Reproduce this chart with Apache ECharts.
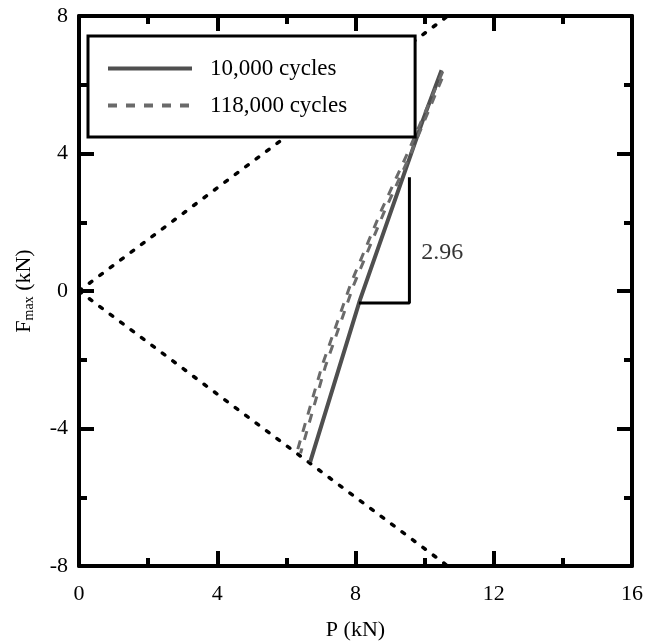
<!DOCTYPE html>
<html>
<head>
<meta charset="utf-8">
<script src="https://cdn.jsdelivr.net/npm/echarts@6/dist/echarts.min.js"></script>
<style>
  html, body { margin: 0; padding: 0; background: #fff; }
  #chart { width: 655px; height: 644px; }
</style>
</head>
<body>
<div id="chart"></div>
<script>
// P (kN), Fmax (kN)
const cycles10k = [[6.69, -4.97], [8.13, -0.26], [9.95, 4.97], [10.49, 6.42]]
const cycles118kA = [[6.33, -4.6], [7.04, -2.15], [7.87, 0.23], [8.75, 2.35], [9.52, 4.04], [10.53, 6.4]]
const cycles118kB = [[6.41, -4.72], [7.12, -2.22], [7.95, 0.18], [8.83, 2.3], [9.6, 4.0], [10.57, 6.34]]
// dotted bounds F = +/-0.75 P
const upperBound = [[0, 0], [10.67, 8]]
const lowerBound = [[0, 0], [10.67, -8]]
// slope bracket
const slopeBracket = [[8.1, -0.35], [9.56, -0.35], [9.56, 3.31]]
const slopeLabel = [[9.9, 1.1]]
const slopeText = '2.96'
const legendNames = ['10,000 cycles', '118,000 cycles']

const font = 'Liberation Serif'
const axisBase = (extra) => Object.assign({
    type: 'value',
    axisLine: { show: true, onZero: false, lineStyle: { color: '#000', width: 4 } },
    axisTick: { show: true, inside: true, length: 15, lineStyle: { color: '#000', width: 4 } },
    minorTick: { show: true, splitNumber: 2, length: 8, lineStyle: { color: '#000', width: 4 } },
    splitLine: { show: false },
    axisLabel: { color: '#000', fontFamily: font, fontSize: 22 }
}, extra)

const chart = echarts.init(document.getElementById('chart'))
chart.setOption({
    animation: false,
    grid: { left: 79, right: 23, top: 16, bottom: 78, outerBoundsMode: 'none' },
    legend: {
        data: legendNames,
        orient: 'vertical',
        left: 88,
        top: 36,
        padding: [21, 68, 20, 18],
        itemGap: 14,
        itemWidth: 84,
        itemHeight: 14,
        backgroundColor: '#fff',
        borderColor: '#000',
        borderWidth: 3,
        itemStyle: { opacity: 0 },
        lineStyle: { width: 4 },
        textStyle: { color: '#000', fontFamily: font, fontSize: 23, lineHeight: 22, padding: [0, 0, 0, 13] }
    },
    xAxis: [
        axisBase({
            min: 0, max: 16, interval: 4, position: 'bottom',
            axisLabel: { color: '#000', fontFamily: font, fontSize: 22, margin: 17 },
            name: 'P (kN)', nameLocation: 'middle', nameGap: 53,
            nameTextStyle: { color: '#000', fontFamily: font, fontSize: 22 }
        }),
        axisBase({ min: 0, max: 16, interval: 4, position: 'top', axisLabel: { show: false } })
    ],
    yAxis: [
        axisBase({
            min: -8, max: 8, interval: 4, position: 'left',
            axisLabel: { color: '#000', fontFamily: font, fontSize: 22, margin: 11 },
            name: '{a|F}{b|max}{a| (kN)}', nameLocation: 'middle', nameGap: 44,
            nameTextStyle: {
                color: '#000', fontFamily: font,
                rich: {
                    a: { fontFamily: font, fontSize: 22, lineHeight: 22, verticalAlign: 'bottom' },
                    b: { fontFamily: font, fontSize: 14, lineHeight: 14, verticalAlign: 'bottom', padding: [0, 0, -1, 0] }
                }
            }
        }),
        axisBase({ min: -8, max: 8, interval: 4, position: 'right', axisLabel: { show: false } })
    ],
    series: [
        {
            name: 'upper', type: 'line', data: upperBound, symbol: 'none', silent: true,
            lineStyle: { color: '#000', width: 3.5, type: [3, 10], cap: 'round' }
        },
        {
            name: 'lower', type: 'line', data: lowerBound, symbol: 'none', silent: true,
            lineStyle: { color: '#000', width: 3.5, type: [3, 10], cap: 'round' }
        },
        {
            name: legendNames[0], type: 'line', data: cycles10k, symbol: 'none',
            lineStyle: { color: '#4f4f4f', width: 4 }, itemStyle: { color: '#4f4f4f' }
        },
        {
            name: legendNames[1], type: 'line', data: cycles118kA, symbol: 'none',
            lineStyle: { color: '#6a6a6a', width: 3, type: [9, 9] }, itemStyle: { color: '#6a6a6a' }
        },
        {
            name: legendNames[1], type: 'line', data: cycles118kB, symbol: 'none',
            lineStyle: { color: '#6a6a6a', width: 3, type: [9, 9], dashOffset: 4 }, itemStyle: { color: '#6a6a6a' }
        },
        {
            name: 'slope', type: 'line', data: slopeBracket, symbol: 'none', silent: true,
            lineStyle: { color: '#000', width: 3 }
        },
        {
            name: 'slopeText', type: 'scatter', data: slopeLabel, symbolSize: 0, silent: true,
            label: {
                show: true, formatter: slopeText, position: [0, 0], align: 'left', verticalAlign: 'middle',
                color: '#000', fontFamily: font, fontSize: 24
            }
        }
    ]
})
</script>
</body>
</html>
